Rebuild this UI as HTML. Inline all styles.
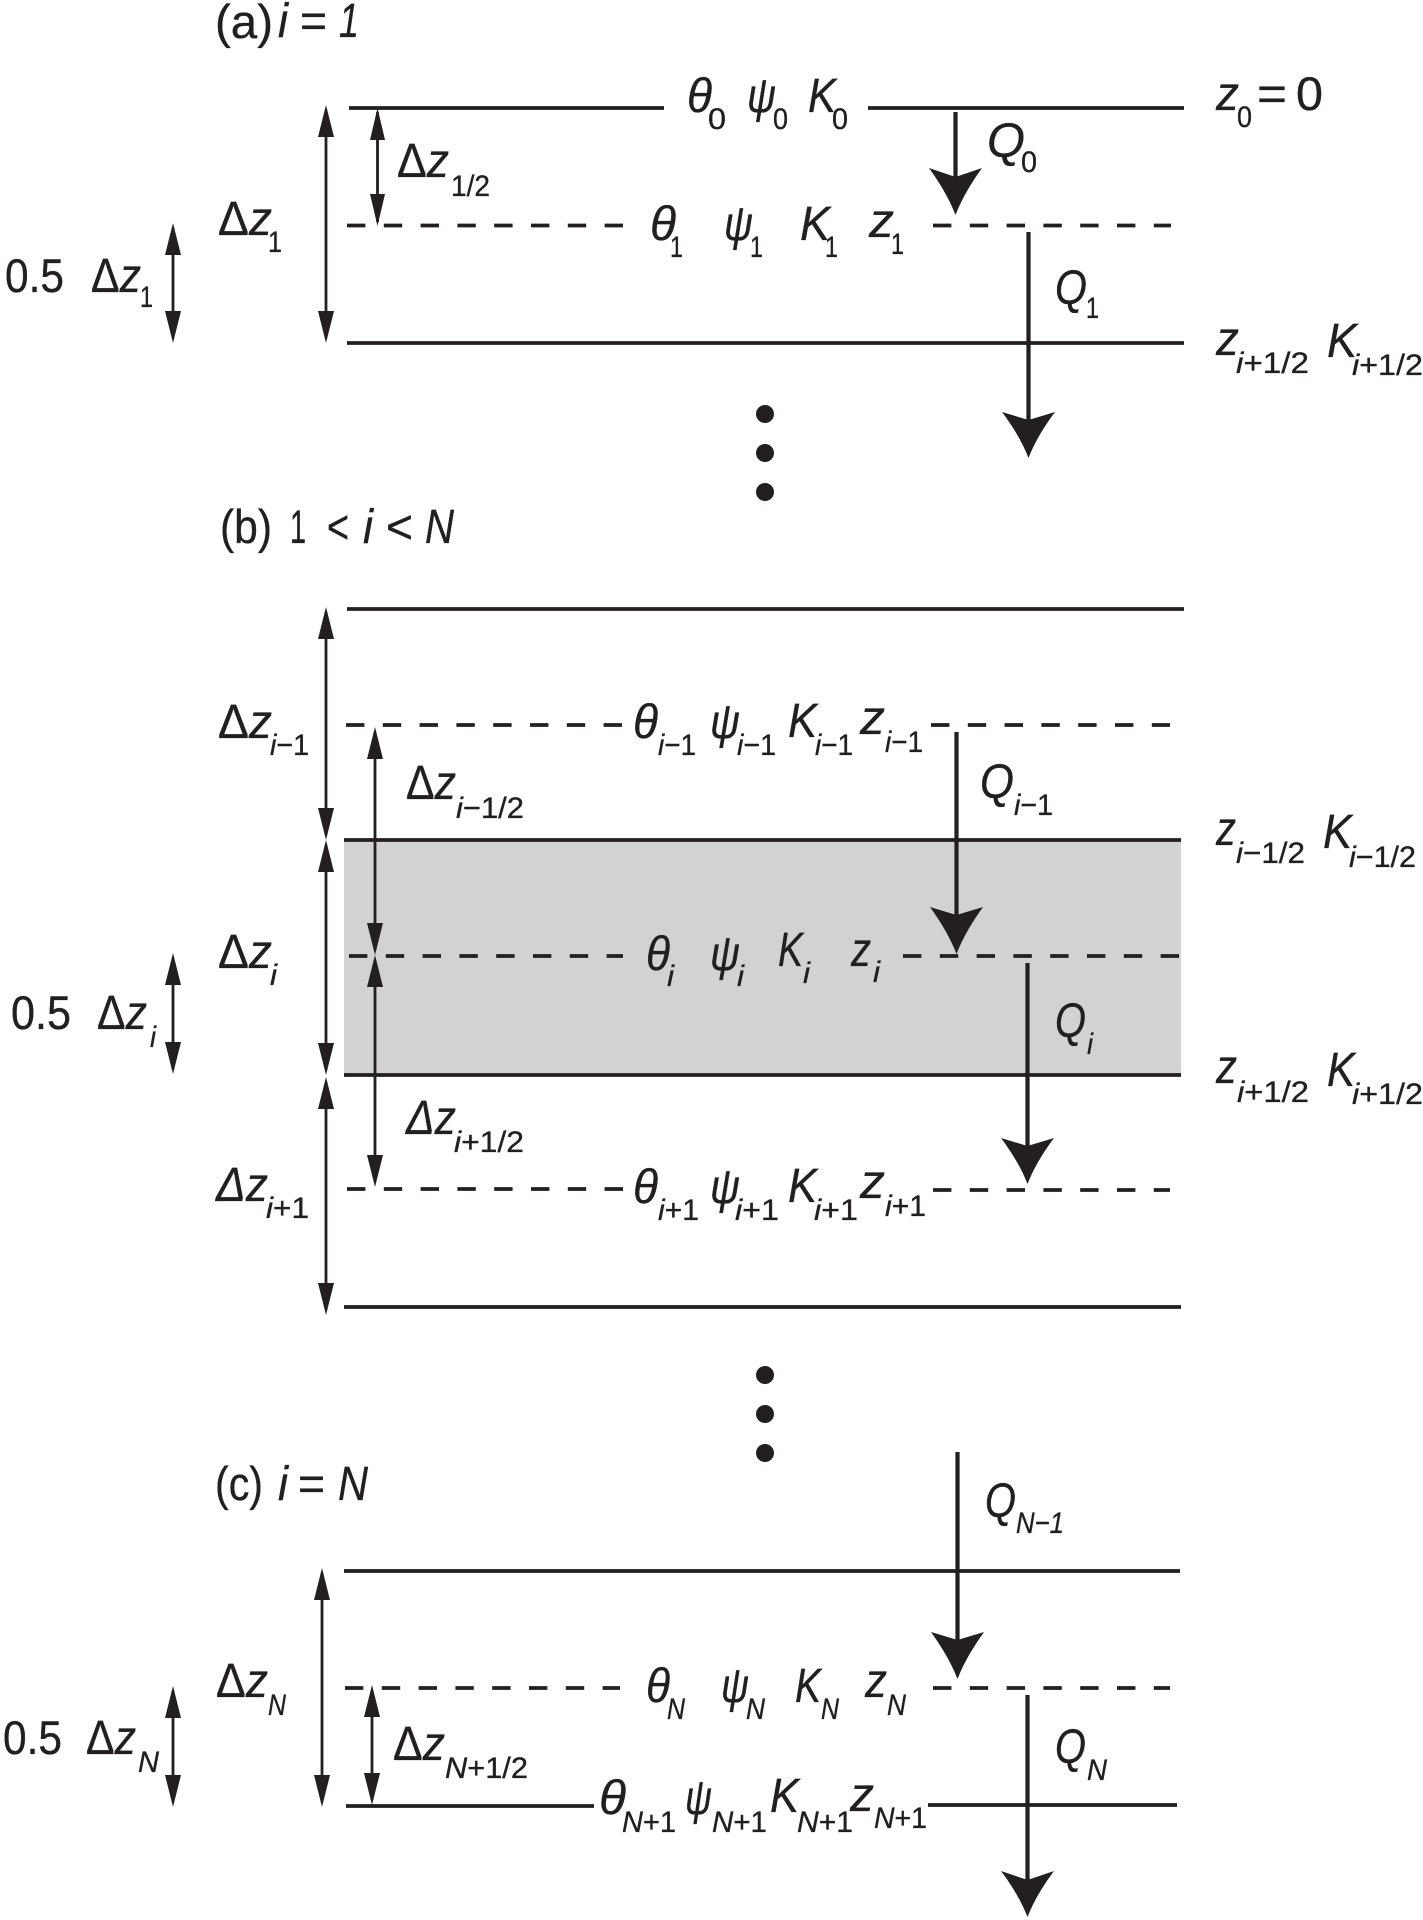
<!DOCTYPE html>
<html><head><meta charset="utf-8"><style>
html,body{margin:0;padding:0;background:#fff}
svg{display:block}
text{font-family:"Liberation Sans",sans-serif;fill:#231f20;stroke:#231f20;stroke-width:.35}
.m{font-size:48px;font-style:italic}
.n{font-size:47px}
.s{font-size:30px;font-style:italic}
.t{font-size:30px}
tspan.u{font-style:normal}
tspan.v{font-style:italic}
.l{stroke:#231f20;stroke-width:3.8;fill:none}
.d{stroke:#231f20;stroke-width:3.8;fill:none;stroke-dasharray:18.4 18.4}
.a{stroke:#231f20;stroke-width:2.8;fill:none}
.q{stroke:#231f20;stroke-width:4.2;fill:none}
.h{fill:#231f20;stroke:none}
</style></head><body>
<svg width="1423" height="1920" viewBox="0 0 1423 1920" xmlns="http://www.w3.org/2000/svg">
<rect width="1423" height="1920" fill="#fff"/>
<rect x="344" y="840" width="837" height="235" fill="#d2d2d2"/>

<!-- lines panel a -->
<path class="l" d="M349 108H664M868 108H1184M347 343H1184"/>
<path class="d" d="M347 225.500H623M933 225.500H1171"/>
<!-- lines panel b -->
<path class="l" d="M347 609H1184M344 840H1181M344 1075H1181M344 1307H1181"/>
<path class="d" d="M346 725H623M931 725H1170M349 956H623M903 956H1180M347 1189H623M933 1190H1170"/>
<!-- lines panel c -->
<path class="l" d="M344 1571H1180M346 1806H594M928 1805H1177"/>
<path class="d" d="M345 1688H620M933 1688H1170"/>

<!-- thin arrows -->
<path class="a" d="M326 110V338M377.500 112V222M173 228V338M326 612V835M375 732V950M326 845V1070M375 960V1182M173 958V1069M326 1082V1310M322 1573V1802M173 1691V1802M372 1690V1800"/>
<g class="h">
<polygon points="326,105 318,137 334,137"/><polygon points="326,343 318,311 334,311"/>
<polygon points="377.500,108 370,140 385,140"/><polygon points="377.500,226 370,194 385,194"/>
<polygon points="173,223 165,255 181,255"/><polygon points="173,343 165,311 181,311"/>
<polygon points="326,607 318,639 334,639"/><polygon points="326,840 318,808 334,808"/>
<polygon points="375,727 367,759 383,759"/><polygon points="375,955 367,923 383,923"/>
<polygon points="326,840 318,872 334,872"/><polygon points="326,1075 318,1043 334,1043"/>
<polygon points="375,955 367,987 383,987"/><polygon points="375,1187 367,1155 383,1155"/>
<polygon points="173,953 165,985 181,985"/><polygon points="173,1074 165,1042 181,1042"/>
<polygon points="326,1077 318,1109 334,1109"/><polygon points="326,1315 318,1283 334,1283"/>
<polygon points="322,1568 314,1600 330,1600"/><polygon points="322,1807 314,1775 330,1775"/>
<polygon points="173,1686 165,1718 181,1718"/><polygon points="173,1807 165,1775 181,1775"/>
<polygon points="372,1685 364,1717 380,1717"/><polygon points="372,1805 364,1773 380,1773"/>
</g>

<!-- Q arrows -->
<path class="q" d="M955.500 112V180M1028.500 232V420M956.500 732V915M1027.500 963V1146M957.500 1452V1640M1027.500 1695V1880"/>
<g class="h">
<path d="M955.500 215Q947 193 929 168L955.500 177L982 168Q964 193 955.500 215Z"/>
<path d="M1028.500 458Q1020 436 1002 412L1028.500 420L1055 412Q1037 436 1028.500 458Z"/>
<path d="M956.500 954Q948 932 930 907L956.500 915L983 907Q965 932 956.500 954Z"/>
<path d="M1027.500 1184Q1019 1162 1001 1138L1027.500 1146L1054 1138Q1036 1162 1027.500 1184Z"/>
<path d="M957.500 1679Q949 1657 931 1632L957.500 1640L984 1632Q966 1657 957.500 1679Z"/>
<path d="M1027.500 1917Q1019 1895 1001 1871L1027.500 1880L1054 1871Q1036 1895 1027.500 1917Z"/>
</g>

<!-- dots -->
<g class="h">
<circle cx="765" cy="414" r="9"/><circle cx="765" cy="453" r="9"/><circle cx="765" cy="492" r="9"/>
<circle cx="765" cy="1375" r="9"/><circle cx="765" cy="1414" r="9"/><circle cx="765" cy="1453" r="9"/>
</g>

<!-- headings -->
<text class="n" x="215" y="38" textLength="58" lengthAdjust="spacingAndGlyphs">(a)</text>
<text class="m" x="278" y="37" textLength="10" lengthAdjust="spacingAndGlyphs">i</text>
<text class="n" x="300" y="37" textLength="27" lengthAdjust="spacingAndGlyphs">=</text>
<text class="m" x="339" y="37" textLength="20" lengthAdjust="spacingAndGlyphs">1</text>

<text class="n" x="220" y="543" textLength="52" lengthAdjust="spacingAndGlyphs">(b)</text>
<text class="n" x="290" y="543" textLength="16" lengthAdjust="spacingAndGlyphs">1</text>
<text class="n" x="327" y="543" textLength="22" lengthAdjust="spacingAndGlyphs">&lt;</text>
<text class="m" x="363" y="543" textLength="10" lengthAdjust="spacingAndGlyphs">i</text>
<text class="n" x="386" y="543" textLength="27" lengthAdjust="spacingAndGlyphs">&lt;</text>
<text class="m" x="425" y="543" textLength="29" lengthAdjust="spacingAndGlyphs">N</text>

<text class="n" x="215" y="1500" textLength="48" lengthAdjust="spacingAndGlyphs">(c)</text>
<text class="m" x="278" y="1500" textLength="10" lengthAdjust="spacingAndGlyphs">i</text>
<text class="n" x="298" y="1500" textLength="27" lengthAdjust="spacingAndGlyphs">=</text>
<text class="m" x="338" y="1500" textLength="30" lengthAdjust="spacingAndGlyphs">N</text>

<!-- panel a labels -->
<text class="m" x="687" y="112" textLength="25" lengthAdjust="spacingAndGlyphs">θ</text><text class="t" x="708" y="129" textLength="18" lengthAdjust="spacingAndGlyphs">0</text>
<text class="m" x="747" y="112" textLength="29" lengthAdjust="spacingAndGlyphs">ψ</text><text class="t" x="773" y="129" textLength="15" lengthAdjust="spacingAndGlyphs">0</text>
<text class="m" x="808" y="112" textLength="28" lengthAdjust="spacingAndGlyphs">K</text><text class="t" x="832" y="129" textLength="16" lengthAdjust="spacingAndGlyphs">0</text>
<text class="m" x="1216" y="110" textLength="23" lengthAdjust="spacingAndGlyphs">z</text><text class="t" x="1237" y="127" textLength="15" lengthAdjust="spacingAndGlyphs">0</text>
<text class="n" x="1257" y="110" textLength="30" lengthAdjust="spacingAndGlyphs">=</text><text class="n" x="1296" y="110" textLength="27" lengthAdjust="spacingAndGlyphs">0</text>
<text class="m" x="987" y="157" textLength="38" lengthAdjust="spacingAndGlyphs">Q</text><text class="t" x="1021" y="172" textLength="16" lengthAdjust="spacingAndGlyphs">0</text>
<text class="m" x="397" y="177" textLength="52" lengthAdjust="spacingAndGlyphs"><tspan class="u">Δ</tspan>z</text><text class="t" x="451" y="196" textLength="39" lengthAdjust="spacingAndGlyphs">1/2</text>
<text class="m" x="218" y="235" textLength="54" lengthAdjust="spacingAndGlyphs"><tspan class="u">Δ</tspan>z</text><text class="t" x="268" y="252" textLength="14" lengthAdjust="spacingAndGlyphs">1</text>
<text class="m" x="650" y="240" textLength="26" lengthAdjust="spacingAndGlyphs">θ</text><text class="t" x="670" y="257" textLength="13" lengthAdjust="spacingAndGlyphs">1</text>
<text class="m" x="724" y="240" textLength="29" lengthAdjust="spacingAndGlyphs">ψ</text><text class="t" x="750" y="257" textLength="13" lengthAdjust="spacingAndGlyphs">1</text>
<text class="m" x="800" y="240" textLength="30" lengthAdjust="spacingAndGlyphs">K</text><text class="t" x="825" y="257" textLength="13" lengthAdjust="spacingAndGlyphs">1</text>
<text class="m" x="869" y="237" textLength="25" lengthAdjust="spacingAndGlyphs">z</text><text class="t" x="891" y="254" textLength="13" lengthAdjust="spacingAndGlyphs">1</text>
<text class="n" x="5" y="292" textLength="59" lengthAdjust="spacingAndGlyphs">0.5</text>
<text class="m" x="91" y="292" textLength="50" lengthAdjust="spacingAndGlyphs"><tspan class="u">Δ</tspan>z</text><text class="t" x="140" y="307" textLength="13" lengthAdjust="spacingAndGlyphs">1</text>
<text class="m" x="1055" y="304" textLength="32" lengthAdjust="spacingAndGlyphs">Q</text><text class="t" x="1086" y="318" textLength="13" lengthAdjust="spacingAndGlyphs">1</text>
<text class="m" x="1216" y="355" textLength="23" lengthAdjust="spacingAndGlyphs">z</text><text class="s" x="1236" y="373" textLength="73" lengthAdjust="spacingAndGlyphs">i<tspan class="u">+1/2</tspan></text>
<text class="m" x="1327" y="357" textLength="30" lengthAdjust="spacingAndGlyphs">K</text><text class="s" x="1352" y="375" textLength="71" lengthAdjust="spacingAndGlyphs">i<tspan class="u">+1/2</tspan></text>

<!-- panel b labels -->
<text class="m" x="218" y="738" textLength="54" lengthAdjust="spacingAndGlyphs"><tspan class="u">Δ</tspan>z</text><text class="s" x="270" y="755" textLength="39" lengthAdjust="spacingAndGlyphs">i<tspan class="u">−1</tspan></text>
<text class="m" x="633" y="738" textLength="25" lengthAdjust="spacingAndGlyphs">θ</text><text class="s" x="658" y="755" textLength="38" lengthAdjust="spacingAndGlyphs">i<tspan class="u">−1</tspan></text>
<text class="m" x="710" y="738" textLength="30" lengthAdjust="spacingAndGlyphs">ψ</text><text class="s" x="737" y="755" textLength="39" lengthAdjust="spacingAndGlyphs">i<tspan class="u">−1</tspan></text>
<text class="m" x="788" y="737" textLength="29" lengthAdjust="spacingAndGlyphs">K</text><text class="s" x="815" y="755" textLength="38" lengthAdjust="spacingAndGlyphs">i<tspan class="u">−1</tspan></text>
<text class="m" x="860" y="734" textLength="25" lengthAdjust="spacingAndGlyphs">z</text><text class="s" x="885" y="752" textLength="38" lengthAdjust="spacingAndGlyphs">i<tspan class="u">−1</tspan></text>
<text class="m" x="406" y="799" textLength="50" lengthAdjust="spacingAndGlyphs"><tspan class="u">Δ</tspan>z</text><text class="s" x="456" y="818" textLength="68" lengthAdjust="spacingAndGlyphs">i<tspan class="u">−1/2</tspan></text>
<text class="m" x="980" y="798" textLength="34" lengthAdjust="spacingAndGlyphs">Q</text><text class="s" x="1014" y="815" textLength="39" lengthAdjust="spacingAndGlyphs">i<tspan class="u">−1</tspan></text>
<text class="m" x="1216" y="845" textLength="20" lengthAdjust="spacingAndGlyphs">z</text><text class="s" x="1236" y="863" textLength="69" lengthAdjust="spacingAndGlyphs">i<tspan class="u">−1/2</tspan></text>
<text class="m" x="1323" y="848" textLength="29" lengthAdjust="spacingAndGlyphs">K</text><text class="s" x="1349" y="867" textLength="67" lengthAdjust="spacingAndGlyphs">i<tspan class="u">−1/2</tspan></text>
<text class="m" x="218" y="968" textLength="54" lengthAdjust="spacingAndGlyphs"><tspan class="u">Δ</tspan>z</text><text class="s" x="270" y="985" textLength="7" lengthAdjust="spacingAndGlyphs">i</text>
<text class="m" x="646" y="970" textLength="24" lengthAdjust="spacingAndGlyphs">θ</text><text class="s" x="667" y="986" textLength="7" lengthAdjust="spacingAndGlyphs">i</text>
<text class="m" x="710" y="970" textLength="30" lengthAdjust="spacingAndGlyphs">ψ</text><text class="s" x="737" y="986" textLength="7" lengthAdjust="spacingAndGlyphs">i</text>
<text class="m" x="778" y="966" textLength="25" lengthAdjust="spacingAndGlyphs">K</text><text class="s" x="803" y="983" textLength="7" lengthAdjust="spacingAndGlyphs">i</text>
<text class="m" x="851" y="966" textLength="20" lengthAdjust="spacingAndGlyphs">z</text><text class="s" x="873" y="982" textLength="7" lengthAdjust="spacingAndGlyphs">i</text>
<text class="n" x="11" y="1029" textLength="60" lengthAdjust="spacingAndGlyphs">0.5</text>
<text class="m" x="97" y="1029" textLength="50" lengthAdjust="spacingAndGlyphs"><tspan class="u">Δ</tspan>z</text><text class="s" x="150" y="1047" textLength="6" lengthAdjust="spacingAndGlyphs">i</text>
<text class="m" x="1055" y="1037" textLength="31" lengthAdjust="spacingAndGlyphs">Q</text><text class="s" x="1087" y="1054" textLength="6" lengthAdjust="spacingAndGlyphs">i</text>
<text class="m" x="1216" y="1083" textLength="21" lengthAdjust="spacingAndGlyphs">z</text><text class="s" x="1237" y="1102" textLength="72" lengthAdjust="spacingAndGlyphs">i<tspan class="u">+1/2</tspan></text>
<text class="m" x="1327" y="1086" textLength="28" lengthAdjust="spacingAndGlyphs">K</text><text class="s" x="1352" y="1104" textLength="71" lengthAdjust="spacingAndGlyphs">i<tspan class="u">+1/2</tspan></text>
<text class="m" x="406" y="1134" textLength="50" lengthAdjust="spacingAndGlyphs"><tspan class="v">Δ</tspan>z</text><text class="s" x="454" y="1152" textLength="70" lengthAdjust="spacingAndGlyphs">i<tspan class="u">+1/2</tspan></text>
<text class="m" x="216" y="1201" textLength="52" lengthAdjust="spacingAndGlyphs"><tspan class="v">Δ</tspan>z</text><text class="s" x="266" y="1218" textLength="43" lengthAdjust="spacingAndGlyphs">i<tspan class="u">+1</tspan></text>
<text class="m" x="633" y="1203" textLength="25" lengthAdjust="spacingAndGlyphs">θ</text><text class="s" x="658" y="1220" textLength="41" lengthAdjust="spacingAndGlyphs">i<tspan class="u">+1</tspan></text>
<text class="m" x="710" y="1203" textLength="30" lengthAdjust="spacingAndGlyphs">ψ</text><text class="s" x="735" y="1220" textLength="44" lengthAdjust="spacingAndGlyphs">i<tspan class="u">+1</tspan></text>
<text class="m" x="788" y="1202" textLength="29" lengthAdjust="spacingAndGlyphs">K</text><text class="s" x="814" y="1220" textLength="44" lengthAdjust="spacingAndGlyphs">i<tspan class="u">+1</tspan></text>
<text class="m" x="860" y="1198" textLength="25" lengthAdjust="spacingAndGlyphs">z</text><text class="s" x="885" y="1216" textLength="41" lengthAdjust="spacingAndGlyphs">i<tspan class="u">+1</tspan></text>

<!-- panel c labels -->
<text class="m" x="985" y="1517" textLength="31" lengthAdjust="spacingAndGlyphs">Q</text><text class="s" x="1016" y="1533" textLength="48" lengthAdjust="spacingAndGlyphs">N−1</text>
<text class="m" x="216" y="1697" textLength="52" lengthAdjust="spacingAndGlyphs"><tspan class="u">Δ</tspan>z</text><text class="s" x="268" y="1715" textLength="18" lengthAdjust="spacingAndGlyphs">N</text>
<text class="m" x="646" y="1702" textLength="24" lengthAdjust="spacingAndGlyphs">θ</text><text class="s" x="667" y="1719" textLength="18" lengthAdjust="spacingAndGlyphs">N</text>
<text class="m" x="721" y="1702" textLength="28" lengthAdjust="spacingAndGlyphs">ψ</text><text class="s" x="746" y="1719" textLength="19" lengthAdjust="spacingAndGlyphs">N</text>
<text class="m" x="795" y="1702" textLength="26" lengthAdjust="spacingAndGlyphs">K</text><text class="s" x="821" y="1719" textLength="18" lengthAdjust="spacingAndGlyphs">N</text>
<text class="m" x="865" y="1697" textLength="22" lengthAdjust="spacingAndGlyphs">z</text><text class="s" x="887" y="1715" textLength="19" lengthAdjust="spacingAndGlyphs">N</text>
<text class="n" x="3" y="1754" textLength="59" lengthAdjust="spacingAndGlyphs">0.5</text>
<text class="m" x="86" y="1754" textLength="50" lengthAdjust="spacingAndGlyphs"><tspan class="u">Δ</tspan>z</text><text class="s" x="138" y="1772" textLength="21" lengthAdjust="spacingAndGlyphs">N</text>
<text class="m" x="393" y="1760" textLength="52" lengthAdjust="spacingAndGlyphs"><tspan class="u">Δ</tspan>z</text><text class="s" x="445" y="1778" textLength="83" lengthAdjust="spacingAndGlyphs">N<tspan class="u">+1/2</tspan></text>
<text class="m" x="1055" y="1763" textLength="31" lengthAdjust="spacingAndGlyphs">Q</text><text class="s" x="1087" y="1780" textLength="20" lengthAdjust="spacingAndGlyphs">N</text>
<text class="m" x="599" y="1814" textLength="27" lengthAdjust="spacingAndGlyphs">θ</text><text class="s" x="622" y="1832" textLength="54" lengthAdjust="spacingAndGlyphs">N<tspan class="u">+1</tspan></text>
<text class="m" x="685" y="1814" textLength="27" lengthAdjust="spacingAndGlyphs">ψ</text><text class="s" x="712" y="1832" textLength="55" lengthAdjust="spacingAndGlyphs">N<tspan class="u">+1</tspan></text>
<text class="m" x="770" y="1812" textLength="29" lengthAdjust="spacingAndGlyphs">K</text><text class="s" x="797" y="1832" textLength="56" lengthAdjust="spacingAndGlyphs">N<tspan class="u">+1</tspan></text>
<text class="m" x="850" y="1811" textLength="24" lengthAdjust="spacingAndGlyphs">z</text><text class="s" x="874" y="1828" textLength="53" lengthAdjust="spacingAndGlyphs">N<tspan class="u">+1</tspan></text>
</svg>
</body></html>
